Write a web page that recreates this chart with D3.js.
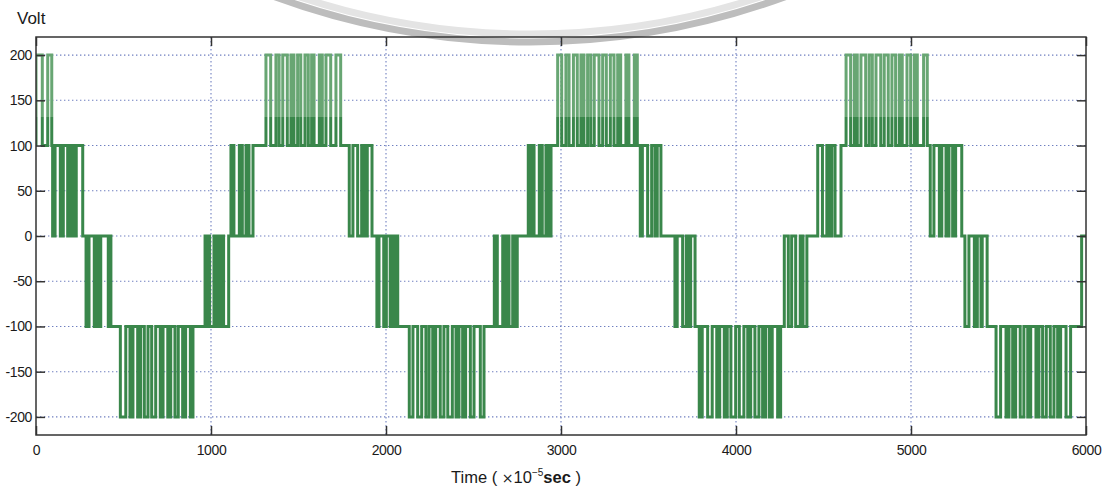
<!DOCTYPE html>
<html>
<head>
<meta charset="utf-8">
<script src="https://cdn.jsdelivr.net/npm/d3@7"></script>
<style>
  html, body { margin: 0; padding: 0; background: #fff; }
  svg { display: block; }
  text { font-family: "Liberation Sans", Arial, sans-serif; fill: #1a1a1a; }
</style>
</head>
<body>
<svg id="chart" width="1111" height="489"></svg>
<script>
// ---------------- data (time in 1e-5 s, voltage in V) ----------------
const xTicks = [0, 1000, 2000, 3000, 4000, 5000, 6000];
const yTicks = [-200, -150, -100, -50, 0, 50, 100, 150, 200];

// each band: start time, resting level, switched level, pulses [on, off] at the switched level
const bandStart = [0, 91, 267, 428, 900, 1101, 1240, 1745, 1920, 2067, 2570, 2750, 2943,
                   3440, 3571, 3766, 4260, 4405, 4600, 5095, 5290, 5435, 5975];
const bandBase  = [100, 100, 0, -100, -100, 0, 100, 100, 0, -100, -100, 0, 100,
                   100, 0, -100, -100, 0, 100, 100, 0, -100, 0];
const bandAlt   = [200, 0, -100, -200, 0, 100, 200, 0, -100, -200, 0, 100, 200,
                   0, -100, -200, 0, 100, 200, 0, -100, -200, -100];
const bandPulses = [
  [[0, 36], [67, 90]],
  [[95, 109], [139, 156], [181, 198], [213, 230]],
  [[286, 303], [333, 350], [362, 370], [413, 422]],
  [[482, 513], [537, 554], [581, 598], [619, 640], [661, 684], [710, 726], [753, 770], [794, 813], [838, 855], [882, 897]],
  [[966, 976], [983, 992], [1017, 1028], [1035, 1046], [1062, 1072]],
  [[1114, 1131], [1162, 1179], [1200, 1217]],
  [[1314, 1341], [1371, 1389], [1410, 1436], [1457, 1474], [1495, 1513], [1537, 1556], [1575, 1589], [1619, 1636], [1657, 1684], [1714, 1741]],
  [[1790, 1811], [1838, 1861], [1876, 1893]],
  [[1948, 1960], [1987, 2002], [2024, 2034], [2042, 2051]],
  [[2133, 2154], [2181, 2204], [2228, 2246], [2267, 2284], [2310, 2331], [2353, 2379], [2400, 2417], [2438, 2455], [2482, 2503], [2539, 2560]],
  [[2619, 2636], [2667, 2680], [2690, 2703], [2724, 2737]],
  [[2813, 2825], [2835, 2846], [2876, 2893], [2914, 2931]],
  [[2981, 3004], [3028, 3046], [3071, 3093], [3114, 3131], [3152, 3170], [3190, 3217], [3238, 3259], [3282, 3303], [3324, 3341], [3371, 3388], [3419, 3436]],
  [[3453, 3465], [3495, 3518], [3537, 3550]],
  [[3651, 3664], [3695, 3716], [3733, 3741]],
  [[3790, 3807], [3838, 3864], [3890, 3907], [3933, 3950], [3971, 3998], [4019, 4045], [4067, 4084], [4108, 4131], [4152, 4169], [4190, 4207], [4238, 4255]],
  [[4276, 4299], [4318, 4341], [4367, 4383]],
  [[4467, 4494], [4519, 4531], [4547, 4566]],
  [[4629, 4655], [4676, 4693], [4714, 4741], [4761, 4779], [4800, 4827], [4847, 4870], [4891, 4912], [4933, 4950], [4977, 4998], [5019, 5036], [5072, 5093]],
  [[5110, 5131], [5162, 5176], [5200, 5217], [5238, 5255]],
  [[5308, 5331], [5362, 5379], [5400, 5407]],
  [[5486, 5512], [5543, 5560], [5581, 5598], [5624, 5645], [5667, 5684], [5714, 5731], [5752, 5773], [5796, 5817], [5838, 5855], [5886, 5912]],
  []
];
const tEnd = 6000;

// build step points from the bands
const points = [];
bandStart.forEach((s, i) => {
  points.push([s, bandBase[i]]);
  bandPulses[i].forEach(([a, b]) => {
    points.push([a, bandAlt[i]]);
    points.push([b, bandBase[i]]);
  });
});
points.sort((p, q) => p[0] - q[0]);
points.push([tEnd, points[points.length - 1][1]]);

// ---------------- layout ----------------
const svg = d3.select("#chart");
const L = 36, R = 1086, T = 37, B = 435;
const x = d3.scaleLinear().domain([0, 6000]).range([L, R]);
const y = d3.scaleLinear().domain([-220, 220]).range([B, T]);

// watermark arc from the scanned page
svg.append("circle").attr("cx", 530).attr("cy", -700).attr("r", 742)
  .attr("fill", "none").attr("stroke", "#bdbdbd").attr("stroke-width", 7);
svg.append("circle").attr("cx", 530).attr("cy", -700).attr("r", 734)
  .attr("fill", "none").attr("stroke", "#e4e4e4").attr("stroke-width", 7);

// grid
const grid = svg.append("g").attr("stroke", "#6f7fc0").attr("stroke-width", 1.1)
  .attr("stroke-dasharray", "1.4,2.6");
grid.selectAll("line.gy").data(yTicks).join("line")
  .attr("x1", L).attr("x2", R).attr("y1", d => y(d)).attr("y2", d => y(d));
grid.selectAll("line.gx").data(xTicks.slice(1, -1)).join("line")
  .attr("y1", T).attr("y2", B).attr("x1", d => x(d)).attr("x2", d => x(d));

// signal
const defs = svg.append("defs");
defs.append("clipPath").attr("id", "clip")
  .append("rect").attr("x", L).attr("y", T).attr("width", R - L).attr("height", B - T);

const grad = defs.append("linearGradient").attr("id", "g1")
  .attr("gradientUnits", "userSpaceOnUse").attr("x1", 0).attr("x2", 0).attr("y1", T).attr("y2", B);
grad.append("stop").attr("offset", 0).attr("stop-color", "#68a673");
grad.append("stop").attr("offset", 0.2).attr("stop-color", "#68a673");
grad.append("stop").attr("offset", 0.2).attr("stop-color", "#3a874b");
grad.append("stop").attr("offset", 1).attr("stop-color", "#3a874b");

const line = d3.line().x(d => x(d[0])).y(d => y(d[1])).curve(d3.curveStepAfter);
svg.append("path").datum(points).attr("clip-path", "url(#clip)")
  .attr("d", line).attr("fill", "none").attr("stroke", "url(#g1)")
  .attr("stroke-width", 3).attr("stroke-linejoin", "miter");

// axes (ticks inward on all four sides)
const tickLen = 9;
const fmt = d => String(d);
const axL = svg.append("g").attr("transform", `translate(${L},0)`)
  .call(d3.axisLeft(y).tickValues(yTicks).tickSize(-tickLen).tickPadding(4).tickFormat(fmt));
const axR = svg.append("g").attr("transform", `translate(${R},0)`)
  .call(d3.axisRight(y).tickValues(yTicks).tickSize(-tickLen).tickFormat(""));
const axB = svg.append("g").attr("transform", `translate(0,${B})`)
  .call(d3.axisBottom(x).tickValues(xTicks).tickSize(-tickLen).tickPadding(10).tickFormat(fmt));
const axT = svg.append("g").attr("transform", `translate(0,${T})`)
  .call(d3.axisTop(x).tickValues(xTicks).tickSize(-tickLen).tickFormat(""));
[axL, axR, axB, axT].forEach(g => {
  g.select(".domain").remove();
  g.selectAll(".tick line").attr("stroke", "#333").attr("stroke-width", 1.5);
  g.selectAll("text").style("font-family", '"Liberation Sans", Arial, sans-serif')
    .style("font-size", "14px").style("letter-spacing", "-0.4px").attr("fill", "#1a1a1a");
});

// frame
svg.append("rect").attr("x", L).attr("y", T).attr("width", R - L).attr("height", B - T)
  .attr("fill", "none").attr("stroke", "#333").attr("stroke-width", 1.5);

// labels
svg.append("text").attr("x", 17).attr("y", 24).style("font-size", "17px").text("Volt");

const xl = svg.append("text").attr("x", 516).attr("y", 483).attr("text-anchor", "middle")
  .style("font-size", "16.5px");
xl.append("tspan").text("Time ( ");
xl.append("tspan").style("font-family", '"DejaVu Sans", sans-serif').style("font-size", "14px").text("×");
xl.append("tspan").text("10");
xl.append("tspan").attr("dy", -7).style("font-size", "10px").text("−5");
xl.append("tspan").attr("dy", 7).style("font-weight", "bold").text("sec");
xl.append("tspan").text(" )");
</script>
</body>
</html>
